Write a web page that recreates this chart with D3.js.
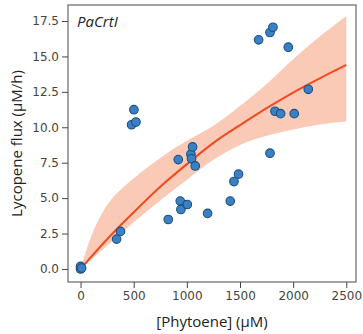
<!DOCTYPE html>
<html>
<head>
<meta charset="utf-8">
<script src="https://cdn.jsdelivr.net/npm/d3@7"></script>
<style>
  body { margin: 0; background: #fff; }
  .axis text { font-family: "DejaVu Sans", sans-serif; font-size: 12px; fill: #444; }
  .axis line { stroke: #444; }
  .axis path { display: none; }
  .label { font-family: "Open Sans", sans-serif; font-size: 15px; fill: #222; }
</style>
</head>
<body>
<svg id="chart" width="363" height="334"></svg>
<script>
var WIDTH = 363;
var HEIGHT = 334;
var MARGINS = { top: 5, right: 7, bottom: 52, left: 68 };
var CHART_WIDTH = WIDTH - MARGINS.left - MARGINS.right;
var CHART_HEIGHT = HEIGHT - MARGINS.top - MARGINS.bottom;

// measured points
var phytoene = [0, 0, 10, 339, 376, 480, 502, 521, 825, 919, 938, 944, 1004, 1038, 1044, 1054, 1079,
  1195, 1408, 1443, 1486, 1675, 1782, 1782, 1810, 1829, 1882, 1954, 2010, 2142];
var flux = [0, 0.18, 0.06, 2.11, 2.65, 10.18, 11.24, 10.37, 3.49, 7.72, 4.79, 4.2, 4.55, 8.1, 7.77, 8.61, 7.27,
  3.92, 4.79, 6.17, 6.69, 16.17, 8.17, 16.69, 17.06, 11.13, 10.96, 15.65, 10.96, 12.68];

// fitted curve
var fitX = [0, 250, 500, 750, 1000, 1250, 1500, 1750, 2000, 2250, 2500];
var fitY = [0, 2.1, 4.0, 5.8, 7.4, 8.9, 10.15, 11.35, 12.45, 13.45, 14.4];

// confidence band edges
var upperX = [0, 100, 200, 300, 400, 500, 600, 700, 800, 900, 1000, 1250, 1500, 1750, 2000, 2250, 2500];
var upperY = [0, 2.3, 3.9, 5.0, 5.75, 6.4, 7.0, 7.55, 8.1, 8.6, 9.05, 10.1, 11.5, 13.05, 14.8, 16.4, 17.85];
var lowerX = [0, 250, 500, 750, 1000, 1250, 1500, 1750, 2000, 2250, 2500];
var lowerY = [0, 1.65, 3.3, 4.85, 6.3, 7.7, 8.75, 9.4, 9.85, 10.2, 10.4];

var xTicks = [0, 500, 1000, 1500, 2000, 2500];
var yTicks = [0, 2.5, 5, 7.5, 10, 12.5, 15, 17.5];

var svg = d3.select('#chart');
var g = svg.append('g')
  .attr('transform', 'translate(' + MARGINS.left + ', ' + MARGINS.top + ')');

var xScale = d3.scaleLinear().domain([-118, 2591]).range([0, CHART_WIDTH]);
var yScale = d3.scaleLinear().domain([-0.92, 18.63]).range([CHART_HEIGHT, 0]);

var bandArea = d3.area()
  .curve(d3.curveMonotoneX)
  .x(d => xScale(d[0]))
  .y0(d => yScale(d[1]))
  .y1(d => yScale(d[2]));

// resample lower edge on the upper x grid so one area can be used
var lowerInterp = d3.scaleLinear().domain(lowerX).range(lowerY);
var bandPts = upperX.map((x, i) => [x, lowerInterp(x), upperY[i]]);

g.append('path')
  .attr('d', bandArea(bandPts))
  .attr('fill', '#fbcab6')
  .attr('stroke', 'none');

var line = d3.line()
  .curve(d3.curveMonotoneX)
  .x(d => xScale(d[0]))
  .y(d => yScale(d[1]));

g.append('path')
  .attr('d', line(fitX.map((x, i) => [x, fitY[i]])))
  .attr('fill', 'none')
  .attr('stroke', '#f04b22')
  .attr('stroke-width', 2);

g.append('g')
  .selectAll('circle')
  .data(phytoene.map((x, i) => [x, flux[i]]))
  .enter()
  .append('circle')
  .attr('cx', d => xScale(d[0]))
  .attr('cy', d => yScale(d[1]))
  .attr('r', 4.3)
  .attr('fill', '#3a80c2')
  .attr('stroke', '#1b4f7f')
  .attr('stroke-width', 1.1);

// frame
g.append('rect')
  .attr('x', 0)
  .attr('y', 0)
  .attr('width', CHART_WIDTH)
  .attr('height', CHART_HEIGHT)
  .attr('fill', 'none')
  .attr('stroke', '#666')
  .attr('stroke-width', 1.2);

var xAxis = d3.axisBottom(xScale).tickValues(xTicks).tickSize(6).tickPadding(3)
  .tickFormat(d3.format('d'));
var yAxis = d3.axisLeft(yScale).tickValues(yTicks).tickSize(6).tickPadding(3)
  .tickFormat(d3.format('.1f'));

g.append('g')
  .attr('class', 'axis axis-x')
  .attr('transform', 'translate(0, ' + CHART_HEIGHT + ')')
  .call(xAxis);

g.append('g')
  .attr('class', 'axis axis-y')
  .call(yAxis);

g.append('text')
  .attr('class', 'label')
  .attr('x', 9)
  .attr('y', 22)
  .attr('font-style', 'italic')
  .text('PaCrtI');

svg.append('text')
  .attr('class', 'label')
  .attr('text-anchor', 'middle')
  .attr('x', MARGINS.left + CHART_WIDTH / 2)
  .attr('y', 327)
  .text('[Phytoene] (\u00b5M)');

svg.append('text')
  .attr('class', 'label')
  .attr('text-anchor', 'middle')
  .attr('transform', 'translate(22, ' + (MARGINS.top + CHART_HEIGHT / 2) + ') rotate(-90)')
  .text('Lycopene flux (\u00b5M/h)');
</script>
</body>
</html>
